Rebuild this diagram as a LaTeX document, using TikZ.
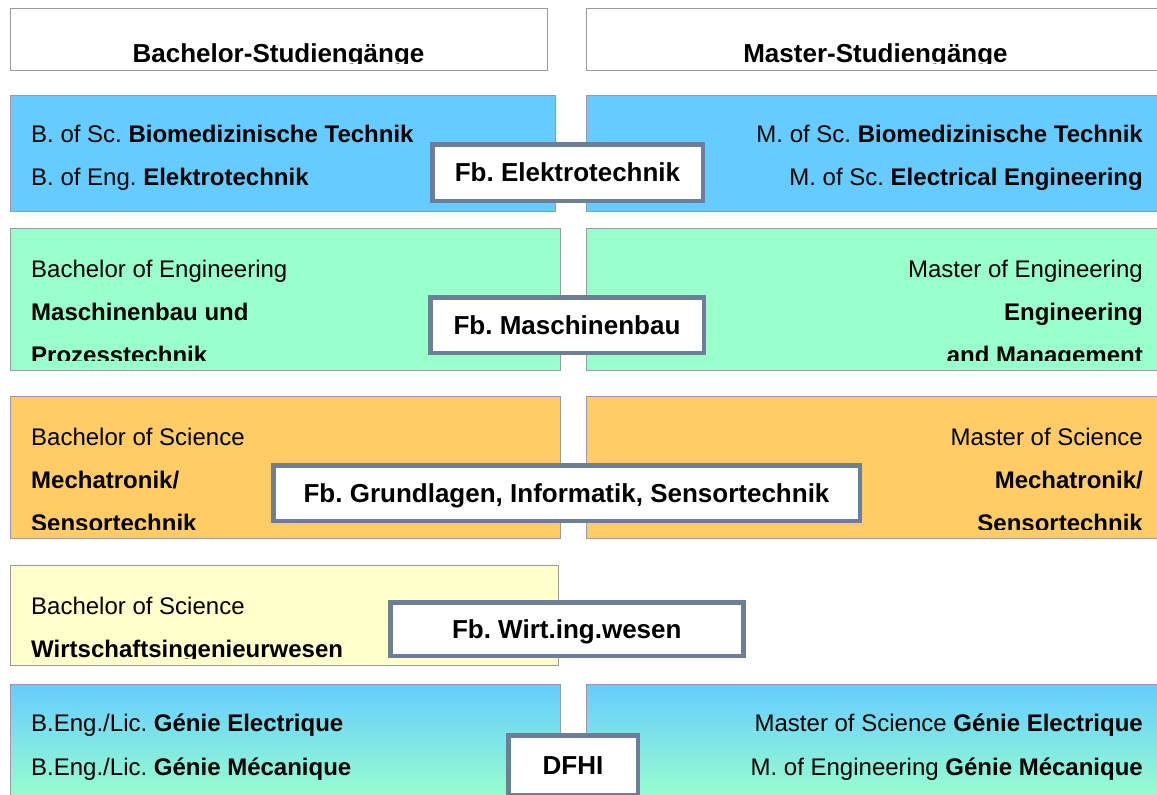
\documentclass[tikz,border=0pt]{standalone}
\usepackage{fontspec}
\setmainfont{Liberation Sans}
\usepackage{tikz}
\frenchspacing

\definecolor{etblue}{HTML}{66CCFF}
\definecolor{mbgreen}{HTML}{99FFCC}
\definecolor{msorange}{HTML}{FFCC66}
\definecolor{wiyellow}{HTML}{FFFFCC}
\definecolor{boxgray}{HTML}{9A9A9A}
\definecolor{fbframe}{HTML}{6C7F97}

\tikzset{
  prog/.style={draw=boxgray, line width=0.9pt},
  fbbox/.style={draw=fbframe, line width=4.5pt, fill=white, inner sep=0pt,
    text height=18.6pt, text depth=0pt,
    font=\fontsize{26}{30}\selectfont\bfseries},
  headtext/.style={anchor=base, inner sep=0pt, font=\fontsize{26}{30}\selectfont\bfseries},
  lefttext/.style={anchor=base west, inner sep=0pt, font=\fontsize{24}{28}\selectfont},
  righttext/.style={anchor=base east, inner sep=0pt, font=\fontsize{24}{28}\selectfont}
}

\begin{document}
\begin{tikzpicture}[x=1pt,y=-1pt]
\useasboundingbox (0,0) rectangle (1157,795);

% Kopfzeile
\draw [prog, fill=white] (10,8) rectangle (547,70);
\draw [prog, fill=white] (586,8) rectangle (1165,70);
\begin{scope}
\clip (10,8) rectangle (1165,63);
\node [headtext] (hbach) at (278.5,62) {Bachelor-Studiengänge};
\node [headtext] (hmast) at (875.5,62) {Master-Studiengänge};
\end{scope}

% Elektrotechnik
\draw [prog, fill=etblue] (10,95) rectangle (555,211);
\draw [prog, fill=etblue] (586,95) rectangle (1165,211);
\node [lefttext] (etb1) at (31,142) {B. of Sc. \textbf{Biomedizinische Technik}};
\node [lefttext] (etb2) at (31,185) {B. of Eng. \textbf{Elektrotechnik}};
\node [righttext] (etm1) at (1143,142) {M. of Sc. \textbf{Biomedizinische Technik}};
\node [righttext] (etm2) at (1143,185) {M. of Sc. \textbf{Electrical Engineering}};

% Maschinenbau
\draw [prog, fill=mbgreen] (10,228) rectangle (560,370);
\draw [prog, fill=mbgreen] (586,228) rectangle (1165,370);
\begin{scope}
\clip (10,228) rectangle (1165,360);
\node [lefttext] (mbb1) at (31,277) {Bachelor of Engineering};
\node [lefttext] (mbb2) at (31,320) {\textbf{Maschinenbau und}};
\node [lefttext] (mbb3) at (31,363) {\textbf{Prozesstechnik}};
\node [righttext] (mbm1) at (1143,277) {Master of Engineering};
\node [righttext] (mbm2) at (1143,320) {\textbf{Engineering}};
\node [righttext] (mbm3) at (1143,363) {\textbf{and Management}};
\end{scope}

% Mechatronik
\draw [prog, fill=msorange] (10,396) rectangle (560,538);
\draw [prog, fill=msorange] (586,396) rectangle (1165,538);
\begin{scope}
\clip (10,396) rectangle (1165,529);
\node [lefttext] (msb1) at (31,445) {Bachelor of Science};
\node [lefttext] (msb2) at (31,488) {\textbf{Mechatronik/}};
\node [lefttext] (msb3) at (31,531) {\textbf{Sensortechnik}};
\node [righttext] (msm1) at (1143,445) {Master of Science};
\node [righttext] (msm2) at (1143,488) {\textbf{Mechatronik/}};
\node [righttext] (msm3) at (1143,531) {\textbf{Sensortechnik}};
\end{scope}

% Wirtschaftsingenieurwesen
\draw [prog, fill=wiyellow] (10,565) rectangle (558,665);
\begin{scope}
\clip (10,565) rectangle (558,658);
\node [lefttext] (wib1) at (31,614) {Bachelor of Science};
\node [lefttext] (wib2) at (31,657) {\textbf{Wirtschaftsingenieurwesen}};
\end{scope}

% DFHI
\draw [prog, top color=etblue, bottom color=mbgreen] (10,684) rectangle (560,800);
\draw [prog, top color=etblue, bottom color=mbgreen] (586,684) rectangle (1165,800);
\node [lefttext] (dfb1) at (31,731) {B.Eng./Lic. \textbf{Génie Electrique}};
\node [lefttext] (dfb2) at (31,775) {B.Eng./Lic. \textbf{Génie Mécanique}};
\node [righttext] (dfm1) at (1143,731) {Master of Science \textbf{Génie Electrique}};
\node [righttext] (dfm2) at (1143,775) {M. of Engineering \textbf{Génie Mécanique}};

% Fachbereiche
\node [fbbox, minimum width=270.5pt, minimum height=56.5pt] (fbet) at (567.5,172.5) {Fb. Elektrotechnik};
\node [fbbox, minimum width=273.5pt, minimum height=55.5pt] (fbmb) at (567,325) {Fb. Maschinenbau};
\node [fbbox, minimum width=586.5pt, minimum height=55.5pt] (fbgis) at (566.5,493) {Fb. Grundlagen, Informatik, Sensortechnik};
\node [fbbox, minimum width=353pt, minimum height=53.5pt] (fbwi) at (566.75,629) {Fb. Wirt.ing.wesen};
\node [fbbox, minimum width=129.5pt, minimum height=59.5pt] (fbdfhi) at (573,765) {DFHI};
\end{tikzpicture}
\end{document}
